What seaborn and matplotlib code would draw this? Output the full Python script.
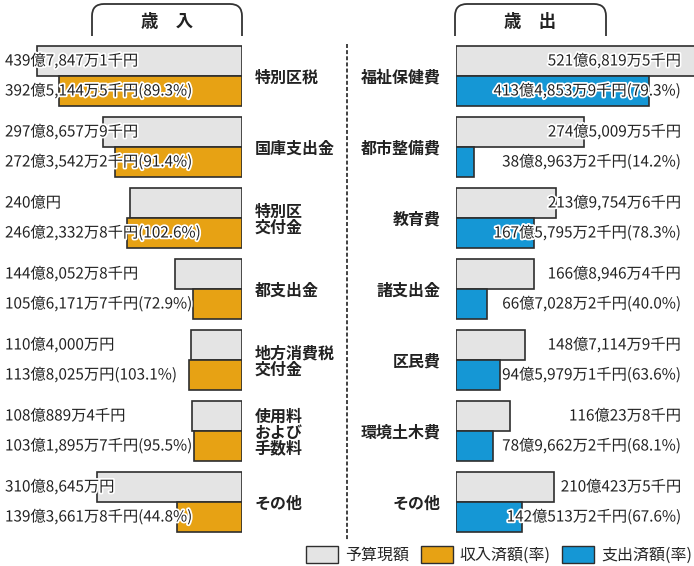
import numpy as np
import pandas as pd
import seaborn as sns
import matplotlib
matplotlib.use("Agg")
import matplotlib.pyplot as plt
import matplotlib.transforms as mtransforms
from matplotlib.path import Path
from matplotlib.patches import PathPatch, Patch
from matplotlib.lines import Line2D
import matplotlib.patheffects as pe

# ---------------- data (億円) ----------------
rev_categories = ["特別区税", "国庫支出金", "特別区\n交付金", "都支出金",
                  "地方消費税\n交付金", "使用料\nおよび\n手数料", "その他"]
rev_budget = [439.78471, 297.86579, 240.0, 144.80528, 110.40, 108.08894, 310.8645]
rev_actual = [392.51445, 272.35422, 246.23328, 105.61717, 113.8025, 103.18957, 139.36618]
rev_budget_labels = ["439億7,847万1千円", "297億8,657万9千円", "240億円", "144億8,052万8千円",
                     "110億4,000万円", "108億889万4千円", "310億8,645万円"]
rev_actual_labels = ["392億5,144万5千円(89.3%)", "272億3,542万2千円(91.4%)",
                     "246億2,332万8千円(102.6%)", "105億6,171万7千円(72.9%)",
                     "113億8,025万円(103.1%)", "103億1,895万7千円(95.5%)",
                     "139億3,661万8千円(44.8%)"]

exp_categories = ["福祉保健費", "都市整備費", "教育費", "諸支出金", "区民費", "環境土木費", "その他"]
exp_budget = [521.68195, 274.50095, 213.97546, 166.89464, 148.71149, 116.00238, 210.04235]
exp_actual = [413.48539, 38.89632, 167.57952, 66.70282, 94.59791, 78.96622, 142.05132]
exp_budget_labels = ["521億6,819万5千円", "274億5,009万5千円", "213億9,754万6千円",
                     "166億8,946万4千円", "148億7,114万9千円", "116億23万8千円", "210億423万5千円"]
exp_actual_labels = ["413億4,853万9千円(79.3%)", "38億8,963万2千円(14.2%)",
                     "167億5,795万2千円(78.3%)", "66億7,028万2千円(40.0%)",
                     "94億5,979万1千円(63.6%)", "78億9,662万2千円(68.1%)",
                     "142億513万2千円(67.6%)"]

legend_labels = ["予算現額", "収入済額(率)", "支出済額(率)"]
panel_titles = ["歳　入", "歳　出"]

# ---------------- style ----------------
sns.set_theme(style="white")
plt.rcParams["font.family"] = ["Noto Sans CJK JP", "DejaVu Sans"]

GRAY = "#e4e4e4"
ORANGE = "#e7a214"
BLUE = "#1597d5"
EDGE = "#2e2e2e"
TXT = "#222222"

W, H = 694, 566
fig = plt.figure(figsize=(W / 100, H / 100), dpi=100)
fig.patch.set_facecolor("white")


def fx(px):
    return px / W


def fy(py):
    return 1 - py / H


ax_top, ax_bot = 40.5, 537.5
axL = fig.add_axes([0, fy(ax_bot), fx(242), (ax_bot - ax_top) / H])
axR = fig.add_axes([fx(456), fy(ax_bot), fx(694 - 456), (ax_bot - ax_top) / H])

rev_df = pd.DataFrame({
    "cat": rev_categories * 2,
    "kind": ["budget"] * 7 + ["actual"] * 7,
    "val": rev_budget + rev_actual,
})
exp_df = pd.DataFrame({
    "cat": exp_categories * 2,
    "kind": ["budget"] * 7 + ["actual"] * 7,
    "val": exp_budget + exp_actual,
})

common = dict(y="cat", x="val", hue="kind", hue_order=["budget", "actual"], orient="h",
              width=0.845, dodge=True, edgecolor=EDGE, linewidth=1.2, saturation=1,
              legend=False, err_kws={"linewidth": 0})
sns.barplot(data=rev_df, palette=[GRAY, ORANGE], ax=axL, **common)
sns.barplot(data=exp_df, palette=[GRAY, BLUE], ax=axR, **common)

px_per = 0.466
axL.set_xlim(242 / px_per, 0)
axR.set_xlim(0, 238 / px_per)

for ax in (axL, axR):
    ax.set_ylim(6.5, -0.5)
    ax.set_xticks([])
    ax.set_xlabel("")
    ax.set_ylabel("")
    ax.set_facecolor("none")
    for s in ax.spines.values():
        s.set_visible(False)
    ax.tick_params(axis="y", length=0)

axL.yaxis.tick_right()
axL.tick_params(axis="y", pad=9, labelsize=11.5)
axR.tick_params(axis="y", pad=11, labelsize=11.5)
for lab in axL.get_yticklabels() + axR.get_yticklabels():
    lab.set_fontweight("bold")
    lab.set_color(TXT)
    lab.set_linespacing(1.0)
for lab in axL.get_yticklabels():
    lab.set_multialignment("left")

halo = [pe.withStroke(linewidth=2.5, foreground="white")]


def put_labels(ax, labels_list, x_px, ha):
    tr = mtransforms.blended_transform_factory(fig.transFigure, ax.transData)
    for cont, labels in zip(ax.containers, labels_list):
        for bar, txt in zip(cont, labels):
            yc = bar.get_y() + bar.get_height() / 2
            ax.text(fx(x_px), yc, txt, transform=tr, ha=ha, va="center",
                    fontsize=11, color=TXT, path_effects=halo, zorder=5, clip_on=False)


put_labels(axL, [rev_budget_labels, rev_actual_labels], 5, "left")
put_labels(axR, [exp_budget_labels, exp_actual_labels], 681, "right")

# center dashed divider
fig.add_artist(Line2D([fx(347), fx(347)], [fy(44), fy(541)], color="#333333",
                      linewidth=1.3, linestyle=(0, (2.2, 1.2))))


# title tabs with rounded top corners
def tab(left, right, top, bottom, r, title):
    verts = [(left, bottom), (left, top + r), (left, top), (left + r, top),
             (right - r, top), (right, top), (right, top + r), (right, bottom)]
    codes = [Path.MOVETO, Path.LINETO, Path.CURVE3, Path.CURVE3,
             Path.LINETO, Path.CURVE3, Path.CURVE3, Path.LINETO]
    verts = [(fx(x), fy(y)) for x, y in verts]
    fig.add_artist(PathPatch(Path(verts, codes), facecolor="none", edgecolor="#333333",
                             linewidth=1.3, transform=fig.transFigure))
    fig.text(fx((left + right) / 2), fy(22), title, ha="center", va="center",
             fontsize=12.5, fontweight="bold", color=TXT)


tab(92, 242, 4, 36, 12, panel_titles[0])
tab(455, 606, 4, 36, 12, panel_titles[1])

# legend
handles = [Patch(facecolor=c, edgecolor=EDGE, linewidth=1.0) for c in (GRAY, ORANGE, BLUE)]
fig.legend(handles=handles, labels=legend_labels, ncol=3, loc="center right",
           bbox_to_anchor=(fx(692), fy(555)), frameon=False, fontsize=11.5,
           handlelength=2.0, handleheight=1.2, handletextpad=0.45, columnspacing=0.7,
           borderaxespad=0, borderpad=0)

fig.savefig("out.png", dpi=100, facecolor="white")
